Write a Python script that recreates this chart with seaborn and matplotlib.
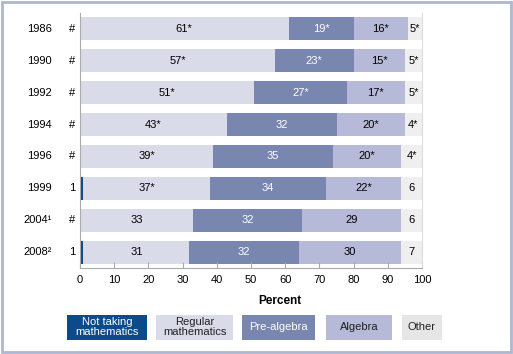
import numpy as np
import pandas as pd
import seaborn as sns
import matplotlib.pyplot as plt
from matplotlib.patches import Rectangle
from matplotlib.transforms import blended_transform_factory

years = ["1986", "1990", "1992", "1994", "1996", "1999", "2004¹", "2008²"]
not_taking = [0, 0, 0, 0, 0, 1, 0, 1]
regular = [61, 57, 51, 43, 39, 37, 33, 31]
pre_algebra = [19, 23, 27, 32, 35, 34, 32, 32]
algebra = [16, 15, 17, 20, 20, 22, 29, 30]
other = [5, 5, 5, 4, 4, 6, 6, 7]

not_taking_lbl = ["#", "#", "#", "#", "#", "1", "#", "1"]
regular_lbl = ["61*", "57*", "51*", "43*", "39*", "37*", "33", "31"]
pre_algebra_lbl = ["19*", "23*", "27*", "32", "35", "34", "32", "32"]
algebra_lbl = ["16*", "15*", "17*", "20*", "20*", "22*", "29", "30"]
other_lbl = ["5*", "5*", "5*", "4*", "4*", "6", "6", "7"]

categories = ["Not taking\nmathematics", "Regular\nmathematics", "Pre-algebra", "Algebra", "Other"]
colors = ["#0b4a8b", "#dadbe8", "#7886b0", "#b6b9d8", "#efefef"]
legend_colors = ["#0b4a8b", "#dadbe8", "#7886b0", "#b6b9d8", "#e6e6e6"]

plt.rcParams['font.family'] = ['Liberation Sans', 'DejaVu Sans']

df = pd.DataFrame({"year": years, "not_taking": not_taking, "regular": regular,
                   "pre_algebra": pre_algebra, "algebra": algebra, "other": other})
c1 = df["not_taking"]
c2 = c1 + df["regular"]
c3 = c2 + df["pre_algebra"]
c4 = c3 + df["algebra"]
df["c1"], df["c2"], df["c3"], df["c4"] = c1, c2, c3, c4
df["c5"] = 100  # "Other" fills up the rest of the bar

fig = plt.figure(figsize=(5.13, 3.54), dpi=100)
ax = fig.add_axes([80 / 513, 1 - 268 / 354, 342 / 513, 255 / 354])

# stacked bars: draw cumulative totals from the longest to the shortest
for col, color in zip(["c5", "c4", "c3", "c2", "c1"], colors[::-1]):
    sns.barplot(data=df, x=col, y="year", order=years, color=color,
                width=0.72, orient="h", saturation=1, ax=ax, linewidth=0)

ax.set_xlim(0, 100)
ax.set_ylim(7.5, -0.5)
ax.set_xticks(range(0, 101, 10))
ax.tick_params(axis="x", direction="in", length=4, color="#aaaaaa", labelsize=8, pad=5)
ax.tick_params(axis="y", length=0, labelleft=False)
ax.set_xlabel("")
ax.set_ylabel("")
for s in ["top"]:
    ax.spines[s].set_visible(False)
ax.spines["left"].set_color("#aaaaaa")
ax.spines["bottom"].set_color("#aaaaaa")
ax.spines["right"].set_color("#dddddd")

fs = 8
trans = blended_transform_factory(ax.transAxes, ax.transData)
for i in range(len(years)):
    ax.text(-28 / 342, i, years[i], transform=trans, ha="right", va="center", fontsize=fs)
    ax.text(-8 / 342, i, not_taking_lbl[i], transform=trans, ha="center", va="center", fontsize=fs)
    ax.text((c1[i] + c2[i]) / 2, i, regular_lbl[i], ha="center", va="center", fontsize=fs)
    ax.text((c2[i] + c3[i]) / 2, i, pre_algebra_lbl[i], ha="center", va="center", fontsize=fs, color="white")
    ax.text((c3[i] + c4[i]) / 2, i, algebra_lbl[i], ha="center", va="center", fontsize=fs)
    ax.text((c4[i] + 100) / 2, i, other_lbl[i], ha="center", va="center", fontsize=fs)

fig.text(280 / 513, 1 - 301 / 354, "Percent", ha="center", va="center", fontsize=8.5, fontweight="bold")

# legend boxes
boxes = [(67, 147), (156, 233), (242, 315), (326, 392), (402, 442)]
for (x0, x1), label, color in zip(boxes, categories, legend_colors):
    fig.patches.append(Rectangle((x0 / 513, 1 - 340 / 354), (x1 - x0) / 513, 25 / 354,
                                 transform=fig.transFigure, facecolor=color, edgecolor="none"))
    tc = "white" if color == legend_colors[0] or color == legend_colors[2] else "#222222"
    fig.text((x0 + x1) / 2 / 513, 1 - 327 / 354, label, ha="center", va="center",
             fontsize=8, color=tc, linespacing=0.9)

# outer frame
fig.patches.append(Rectangle((2 / 513, 2 / 354), 509 / 513, 350 / 354, transform=fig.transFigure,
                             facecolor="none", edgecolor="#aeb6d0", linewidth=2))

fig.savefig("out.png", dpi=100)
